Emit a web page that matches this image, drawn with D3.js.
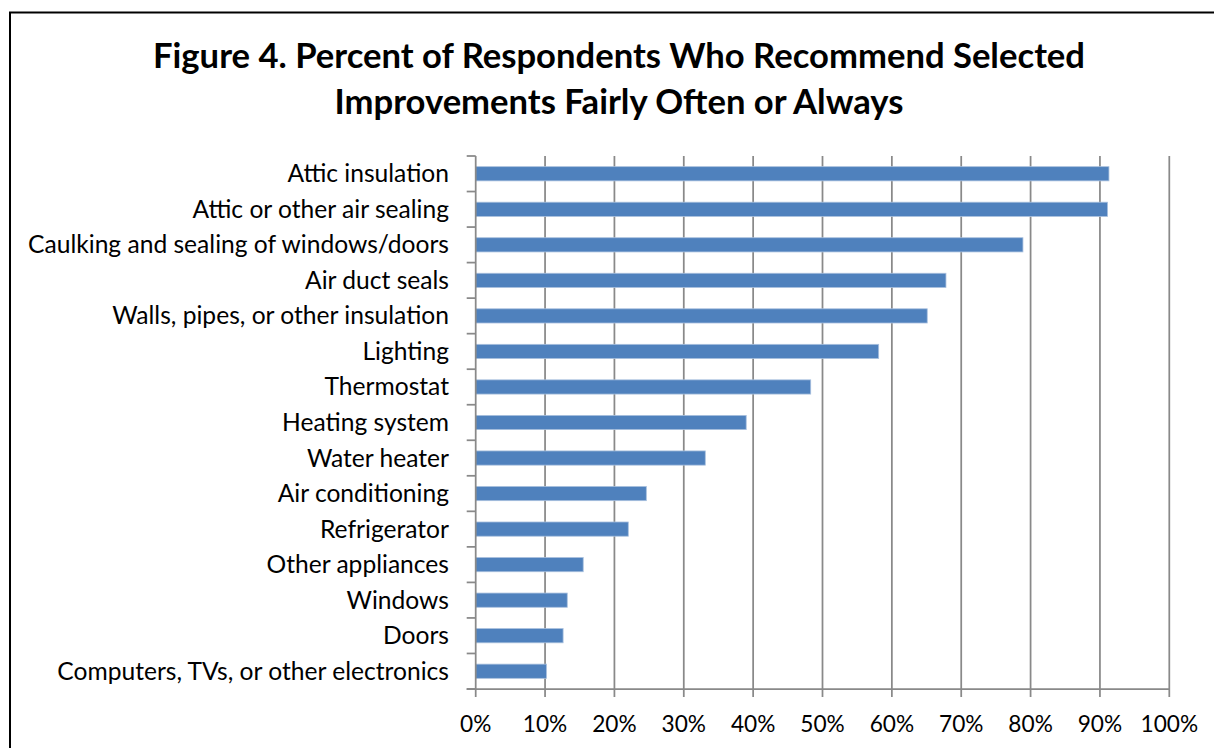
<!DOCTYPE html>
<html>
<head>
<meta charset="utf-8">
<script src="https://cdn.jsdelivr.net/npm/d3@7"></script>
<style>
  html, body { margin: 0; padding: 0; background: #fff; }
  svg { display: block; }
  text { font-family: Lato, "Open Sans", sans-serif; fill: #000; }
</style>
</head>
<body>
<svg id="chart" width="1214" height="748"></svg>
<script>
// Improvements recommended fairly often or always (share of respondents)
const categories = [
  "Attic insulation",
  "Attic or other air sealing",
  "Caulking and sealing of windows/doors",
  "Air duct seals",
  "Walls, pipes, or other insulation",
  "Lighting",
  "Thermostat",
  "Heating system",
  "Water heater",
  "Air conditioning",
  "Refrigerator",
  "Other appliances",
  "Windows",
  "Doors",
  "Computers, TVs, or other electronics"
];
const percentValues = [91.3, 91.1, 78.9, 67.8, 65.1, 58.1, 48.3, 39.0, 33.1, 24.6, 22.0, 15.5, 13.2, 12.6, 10.2];
const tickValues = [0, 10, 20, 30, 40, 50, 60, 70, 80, 90, 100];
const tickLabels = ["0%", "10%", "20%", "30%", "40%", "50%", "60%", "70%", "80%", "90%", "100%"];
const titleLines = [
  "Figure 4. Percent of Respondents Who Recommend Selected",
  "Improvements Fairly Often or Always"
];

const svg = d3.select("#chart");

// outer frame
svg.append("rect")
  .attr("x", 10).attr("y", 12.5)
  .attr("width", 1240).attr("height", 760)
  .attr("fill", "none").attr("stroke", "#000").attr("stroke-width", 2);

const plot = { left: 475.7, right: 1169.3, top: 156, bottom: 689 };

const x = d3.scaleLinear().domain([0, 100]).range([plot.left, plot.right]);
const y = d3.scaleBand().domain(categories).range([plot.top, plot.bottom])
  .paddingInner(0.6).paddingOuter(0.3);

// shrink/grow a text selection so its widest item spans the given width
function fitWidth(sel, target) {
  let w = 0;
  sel.each(function () { w = Math.max(w, this.getComputedTextLength()); });
  const fs = parseFloat(sel.attr("font-size"));
  sel.attr("font-size", (fs * target / w).toFixed(2));
}

// title
const title = svg.append("g");
titleLines.forEach((t, i) => {
  title.append("text")
    .attr("x", 619).attr("y", i === 0 ? 67.5 : 114)
    .attr("text-anchor", "middle")
    .attr("font-weight", "bold")
    .attr("font-size", 32)
    .text(t);
});
fitWidth(title.selectAll("text").filter((d, i) => i === 0), 932);
title.selectAll("text").attr("font-size", title.select("text").attr("font-size"));

// vertical gridlines
svg.append("g").selectAll("line")
  .data(tickValues.slice(1))
  .join("line")
  .attr("x1", d => x(d)).attr("x2", d => x(d))
  .attr("y1", plot.top).attr("y2", plot.bottom)
  .attr("stroke", "#898989").attr("stroke-width", 1.75);

// bars
svg.append("g").selectAll("rect")
  .data(categories.map((c, i) => ({ c, v: percentValues[i] })))
  .join("rect")
  .attr("x", x(0))
  .attr("y", d => y(d.c))
  .attr("width", d => x(d.v) - x(0))
  .attr("height", y.bandwidth())
  .attr("fill", "#4f81bd")
  .attr("stroke", "#a9c0de").attr("stroke-width", 0.8);

// category axis (left) with ticks on band boundaries
const axisColor = "#898989";
const left = svg.append("g");
left.append("line")
  .attr("x1", plot.left).attr("x2", plot.left)
  .attr("y1", plot.top).attr("y2", plot.bottom)
  .attr("stroke", axisColor).attr("stroke-width", 1.75);
const step = y.step();
left.selectAll("line.tick")
  .data(d3.range(categories.length + 1))
  .join("line").attr("class", "tick")
  .attr("x1", plot.left - 9).attr("x2", plot.left)
  .attr("y1", i => plot.top + i * step).attr("y2", i => plot.top + i * step)
  .attr("stroke", axisColor).attr("stroke-width", 1.75);

const catLabels = left.selectAll("text")
  .data(categories)
  .join("text")
  .attr("x", 449)
  .attr("y", d => y(d) + y.bandwidth() / 2 + 8.5)
  .attr("text-anchor", "end")
  .attr("font-size", 22)
  .text(d => d);
fitWidth(catLabels, 421);

// value axis (bottom)
const bottom = svg.append("g");
bottom.append("line")
  .attr("x1", plot.left - 9).attr("x2", plot.right)
  .attr("y1", plot.bottom).attr("y2", plot.bottom)
  .attr("stroke", axisColor).attr("stroke-width", 1.75);
bottom.selectAll("line.tick")
  .data(tickValues)
  .join("line").attr("class", "tick")
  .attr("x1", d => x(d)).attr("x2", d => x(d))
  .attr("y1", plot.bottom).attr("y2", plot.bottom + 8)
  .attr("stroke", axisColor).attr("stroke-width", 1.75);
const xLabels = bottom.selectAll("text")
  .data(tickValues)
  .join("text")
  .attr("x", d => x(d))
  .attr("y", 732)
  .attr("text-anchor", "middle")
  .attr("font-size", 24)
  .text((d, i) => tickLabels[i]);
fitWidth(xLabels, 57.6);
</script>
</body>
</html>
